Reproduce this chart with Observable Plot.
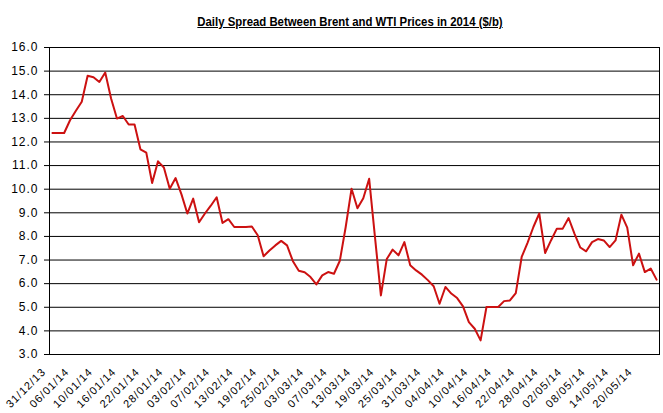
<!DOCTYPE html>
<html><head><meta charset="utf-8">
<script src="https://cdn.jsdelivr.net/npm/d3@7"></script>
<script src="https://cdn.jsdelivr.net/npm/@observablehq/plot@0.6"></script>
<style>
body{margin:0;background:#fff;}
#wrap{position:relative;width:663px;height:413px;}
#title{position:absolute;left:350px;top:15px;transform:translateX(-50%) scaleX(0.91);white-space:nowrap;font:bold 12.5px "Liberation Sans",Arial,sans-serif;text-decoration:underline;color:#000;z-index:2;}
#chart svg text{letter-spacing:1px;}
</style></head><body>
<div id="wrap"><div id="title">Daily Spread Between Brent and WTI Prices in 2014 ($/b)</div><div id="chart"></div></div>
<script>
const dates = ["31/12/13","01/01/14","02/01/14","03/01/14","06/01/14","07/01/14","08/01/14","09/01/14","10/01/14","13/01/14",
"14/01/14","15/01/14","16/01/14","17/01/14","20/01/14","21/01/14","22/01/14","23/01/14","24/01/14","27/01/14",
"28/01/14","29/01/14","30/01/14","31/01/14","03/02/14","04/02/14","05/02/14","06/02/14","07/02/14","10/02/14",
"11/02/14","12/02/14","13/02/14","14/02/14","17/02/14","18/02/14","19/02/14","20/02/14","21/02/14","24/02/14",
"25/02/14","26/02/14","27/02/14","28/02/14","03/03/14","04/03/14","05/03/14","06/03/14","07/03/14","10/03/14",
"11/03/14","12/03/14","13/03/14","14/03/14","17/03/14","18/03/14","19/03/14","20/03/14","21/03/14","24/03/14",
"25/03/14","26/03/14","27/03/14","28/03/14","31/03/14","01/04/14","02/04/14","03/04/14","04/04/14","07/04/14",
"08/04/14","09/04/14","10/04/14","11/04/14","14/04/14","15/04/14","16/04/14","17/04/14","18/04/14","21/04/14",
"22/04/14","23/04/14","24/04/14","25/04/14","28/04/14","29/04/14","30/04/14","01/05/14","02/05/14","05/05/14",
"06/05/14","07/05/14","08/05/14","09/05/14","12/05/14","13/05/14","14/05/14","15/05/14","16/05/14","19/05/14",
"20/05/14","21/05/14","22/05/14","23/05/14"];
const spread = [12.38,12.38,12.38,12.92,13.32,13.70,14.80,14.74,14.54,14.94,
13.84,12.99,13.10,12.74,12.74,11.69,11.55,10.26,11.18,10.92,
10.02,10.47,9.78,8.97,9.60,8.60,8.97,9.30,9.66,8.57,
8.73,8.40,8.40,8.40,8.42,8.05,7.16,7.40,7.62,7.81,
7.62,6.95,6.55,6.48,6.28,5.97,6.35,6.49,6.42,6.97,
8.40,10.02,9.19,9.62,10.44,7.95,5.50,7.04,7.44,7.20,
7.76,6.78,6.56,6.38,6.15,5.89,5.15,5.86,5.58,5.39,
5.04,4.37,4.09,3.60,5.01,5.01,5.01,5.26,5.29,5.60,
7.13,7.73,8.40,8.97,7.30,7.83,8.33,8.33,8.78,8.12,
7.53,7.37,7.76,7.89,7.83,7.55,7.83,8.92,8.37,6.78,
7.27,6.49,6.64,6.17];
const tickLabels = ["31/12/13","06/01/14","10/01/14","16/01/14","22/01/14","28/01/14","03/02/14","07/02/14","13/02/14",
"19/02/14","25/02/14","03/03/14","07/03/14","13/03/14","19/03/14","25/03/14","31/03/14","04/04/14","10/04/14",
"16/04/14","22/04/14","28/04/14","02/05/14","08/05/14","14/05/14","20/05/14"];
const yTicks = [3,4,5,6,7,8,9,10,11,12,13,14,15,16];

const data = dates.map((d, i) => ({date: d, value: spread[i]}));

const chart = Plot.plot({
  width: 663, height: 413,
  marginLeft: 49, marginRight: 4, marginTop: 47, marginBottom: 59,
  style: {background: "#fff", fontFamily: "'Liberation Sans', Arial, sans-serif", color: "#000"},
  x: {type: "point", domain: dates, padding: 0.5, axis: null},
  y: {domain: [3, 16], axis: null},
  marks: [
    Plot.gridY(yTicks, {stroke: "#000", strokeOpacity: 1, strokeWidth: 1}),
    Plot.frame({stroke: "#000", strokeWidth: 1}),
    Plot.axisY(yTicks, {anchor: "left", label: null, tickSize: 5, tickPadding: 6, tickFormat: d => d.toFixed(1), fontSize: 12, stroke: "#000"}),
    Plot.line(data, {x: "date", y: "value", stroke: "#cc1111", strokeWidth: 2}),
    Plot.text(tickLabels, {x: d => d, frameAnchor: "bottom", rotate: -45, textAnchor: "end", dx: -6, dy: 18, fontSize: 11, fill: "#000"})
  ]
});
document.getElementById("chart").appendChild(chart);
</script>
</body></html>
